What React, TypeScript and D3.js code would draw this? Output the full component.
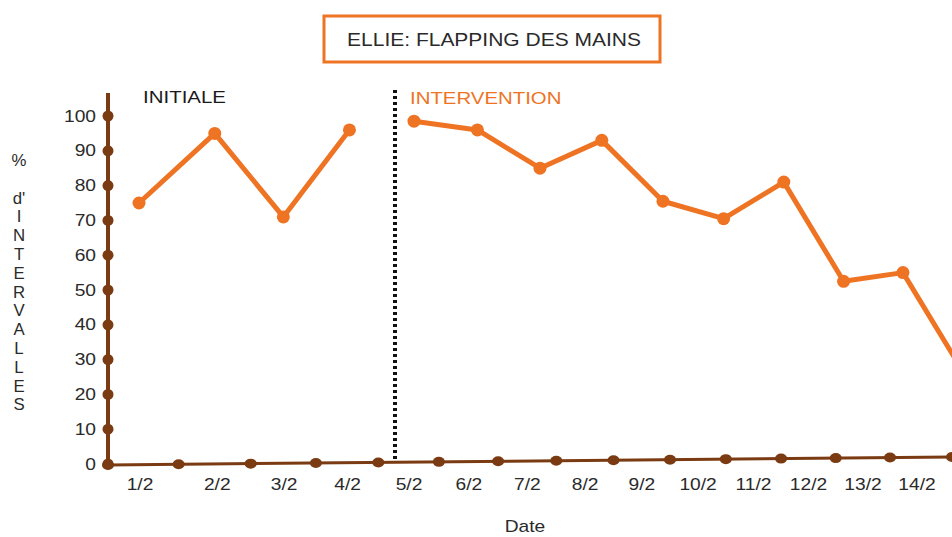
import { useEffect, useRef } from 'react';
import * as d3 from 'd3';

const dates: string[] = ['1/2', '2/2', '3/2', '4/2', '5/2', '6/2', '7/2', '8/2', '9/2', '10/2', '11/2', '12/2', '13/2', '14/2'];
const baseline: number[] = [75, 95, 71, 96];
const intervention: number[] = [98.5, 96, 85, 93, 75.5, 70.5, 81, 52.5, 55, 27];
const yTicks: number[] = [0, 10, 20, 30, 40, 50, 60, 70, 80, 90, 100];
const yTitle: string[] = ['%', '', "d'", 'I', 'N', 'T', 'E', 'R', 'V', 'A', 'L', 'L', 'E', 'S'];

const BROWN = '#7a3a12';
const ORANGE = '#ee7424';
const TEXT = '#2a2a2a';
const FONT = '"Liberation Sans", Arial, sans-serif';
// the original picture is stretched sideways, so text is widened a bit
const STRETCH = 1.2;

export default function App() {
  const ref = useRef<SVGSVGElement | null>(null);

  useEffect(() => {
    const svg = d3.select(ref.current);
    svg.selectAll('*').remove();

    const W = 952;
    const H = 537;
    const x0 = 108;

    const y = d3.scaleLinear().domain([0, 100]).range([464, 116]);
    // points and labels are hand placed in the original, slightly compressed to the right
    const xPt = d3.scalePow().exponent(0.93).domain([0, dates.length - 1]).range([139, 962]);
    const xLab = d3.scalePow().exponent(0.9).domain([0, dates.length - 1]).range([140, 917]);
    // x axis is drawn with a slight upward tilt
    const axisY = d3.scaleLinear().domain([x0, W]).range([465, 457]);

    svg.attr('width', W).attr('height', H);

    const label = (
      sel: d3.Selection<any, any, any, any>,
      x: number, yy: number, text: string, size: number, anchor = 'start', fill = TEXT, sx = STRETCH,
    ) => sel.append('text')
      .attr('transform', `translate(${x},${yy}) scale(${sx},1)`)
      .attr('text-anchor', anchor)
      .attr('font-family', FONT)
      .attr('font-size', size)
      .attr('fill', fill)
      .text(text);

    // title box
    svg.append('rect')
      .attr('x', 324).attr('y', 16).attr('width', 336).attr('height', 46)
      .attr('fill', '#fff').attr('stroke', ORANGE).attr('stroke-width', 3);
    label(svg, 494, 46, 'ELLIE: FLAPPING DES MAINS', 17.5, 'middle', TEXT, 1.2);

    // phase labels
    label(svg, 143, 103, 'INITIALE', 16.5, 'start', '#1a1a1a', 1.24);
    label(svg, 410, 104, 'INTERVENTION', 17, 'start', ORANGE);

    // phase change line
    const xPhase = 395;
    svg.append('line')
      .attr('x1', xPhase).attr('x2', xPhase)
      .attr('y1', 90).attr('y2', axisY(xPhase))
      .attr('stroke', '#111').attr('stroke-width', 4).attr('stroke-dasharray', '3,3');

    // y axis
    svg.append('line')
      .attr('x1', x0).attr('x2', x0).attr('y1', 93).attr('y2', y(0))
      .attr('stroke', BROWN).attr('stroke-width', 4);
    svg.selectAll('.ydot')
      .data(yTicks)
      .enter()
      .append('circle')
      .attr('cx', x0).attr('cy', d => y(d)).attr('r', 5.5)
      .attr('fill', BROWN);
    yTicks.forEach(t => label(svg, 96, y(t) + 5.5, String(t), 16, 'end'));

    // y title, stacked letters
    yTitle.forEach((c, i) => label(svg, 19, 166 + i * 18.8, c, 16, 'middle', TEXT, 1.05));

    // x axis
    svg.append('line')
      .attr('x1', x0).attr('x2', W).attr('y1', axisY(x0)).attr('y2', axisY(W))
      .attr('stroke', BROWN).attr('stroke-width', 3);
    const xDots = [x0, ...dates.slice(0, -1).map((_, i) => (xLab(i) + xLab(i + 1)) / 2), W];
    svg.selectAll('.xdot')
      .data(xDots)
      .enter()
      .append('ellipse')
      .attr('cx', d => d).attr('cy', d => axisY(d)).attr('rx', 6).attr('ry', 5)
      .attr('fill', BROWN);
    dates.forEach((d, i) => label(svg, xLab(i), 490, d, 16, 'middle'));
    label(svg, 525, 532, 'Date', 16, 'middle');

    // series
    const line = d3.line<[number, number]>().x(d => xPt(d[0])).y(d => y(d[1]));
    const phases: [number, number][][] = [
      baseline.map((v, i) => [i, v]),
      intervention.map((v, i) => [i + baseline.length, v]),
    ];
    phases.forEach(pts => {
      svg.append('path')
        .datum(pts)
        .attr('d', line)
        .attr('fill', 'none')
        .attr('stroke', ORANGE)
        .attr('stroke-width', 5)
        .attr('stroke-linejoin', 'round');
      svg.append('g')
        .selectAll('circle')
        .data(pts)
        .enter()
        .append('circle')
        .attr('cx', d => xPt(d[0])).attr('cy', d => y(d[1])).attr('r', 6.5)
        .attr('fill', ORANGE);
    });
  }, []);

  return (
    <svg
      ref={ref}
      style={{ position: 'absolute', left: 0, top: 0, overflow: 'hidden', background: '#fff' }}
    />
  );
}
